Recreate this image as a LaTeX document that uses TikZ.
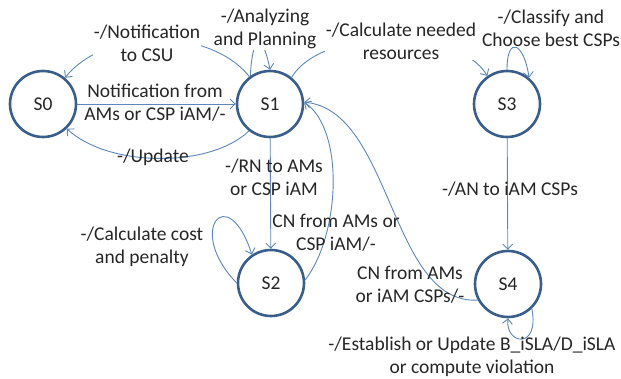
\documentclass[tikz,border=0pt]{standalone}
\usepackage{fontspec}
\setmainfont{Carlito}
\usetikzlibrary{arrows.meta}
\definecolor{edgeblue}{HTML}{5B87BD}
\definecolor{stateblue}{HTML}{3A5E8C}
\definecolor{txt}{HTML}{262626}
\begin{document}
\begin{tikzpicture}[x=1pt,y=-1pt,
  state/.style={circle, draw=stateblue, line width=2.6pt, fill=white, minimum size=66pt, inner sep=0pt, font=\fontsize{19.5}{23}\selectfont, text=txt},
  edge/.style={draw=edgeblue, line width=0.9pt, -{Straight Barb[length=5pt,width=10pt]}},
  lbl/.style={align=center, font=\fontsize{19.5}{23}\selectfont, text=txt, inner sep=1pt},
  wlbl/.style={lbl, fill=white}]
\useasboundingbox (0,0) rectangle (621,379);
\node[state] (S0) at (43,104) {S0};
\node[state] (S1) at (270,104) {S1};
\node[state] (S3) at (507,104) {S3};
\node[state] (S2) at (271,283) {S2};
\node[state] (S4) at (508,284) {S4};
% connectors
\draw[edge] (S0) -- (S1);
\draw[edge] (S1.127) .. controls +(-40,-50) and +(40,-50) .. (S0.50);
\draw[edge] (S1.232) .. controls +(-40,38) and +(40,38) .. (S0.314);
\draw[edge] (S1.125) .. controls +(2,-40) and +(-8,-40) .. (S1.90);
\draw[edge] (S1.51) .. controls +(30,-50) and +(-30,-50) .. (S3.125);
\draw[edge] (S3.90) .. controls +(0,-35) and +(-5,-35) .. (S3.50);
\draw[edge] (S3) -- (S4);
\draw[edge] (S1) -- (S2);
\draw[edge] (S2.5) .. controls (340,235) and (345,130) .. (S1.3);
\draw[edge] (S4.208) .. controls (390,305) and (392,110) .. (S1.3);
\draw[edge] (S4.314) .. controls (540,350) and (505,345) .. (S4.270);
\draw[edge] (S2.180) .. controls (185,230) and (228,180) .. (S2.124);
% labels
\node[wlbl] (lNot) at (147,43) {-/Notification\\to CSU};
\node[lbl] (lNf) at (155,103) {Notification from\\AMs or CSP iAM/-};
\node[lbl] (lUp) at (153,157) {-/Update};
\node[wlbl] (lAn) at (265,29) {-/Analyzing\\and Planning};
\node[wlbl] (lCalc) at (401,41) {-/Calculate needed\\resources};
\node[wlbl] (lCl) at (551,28) {-/Classify and\\Choose best CSPs};
\node[lbl] (lRN) at (274,177) {-/RN to AMs\\or CSP iAM};
\node[lbl] (lCN1) at (336,233) {CN from AMs or\\CSP iAM/-};
\node[lbl] (lAN) at (510,189) {-/AN to iAM CSPs};
\node[lbl] (lCN2) at (410,285) {CN from AMs\\or iAM CSPs/-};
\node[lbl] (lCc) at (142,247) {-/Calculate cost\\and penalty};
\node[lbl] (lEs) at (472,357) {-/Establish or Update B\_iSLA/D\_iSLA\\or compute violation};
\end{tikzpicture}
\end{document}
